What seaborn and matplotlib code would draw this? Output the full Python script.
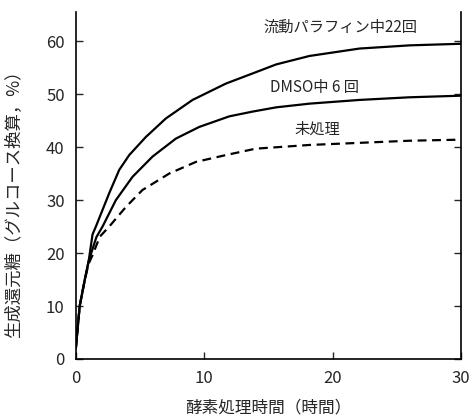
import matplotlib; matplotlib.use('Agg')
import numpy as np
import pandas as pd
import seaborn as sns
import matplotlib.pyplot as plt

# enzyme treatment time (h) vs reducing sugar (% as glucose)
t_paraffin = [0, 0.3, 0.7, 1.0, 1.3, 1.56, 2.6, 3.38, 4.16, 5.45, 7.01, 9.09, 11.7, 13.77, 15.6, 18.2, 22.1, 26.0, 30]
y_paraffin = [2, 10, 15, 18.5, 23.5, 25.0, 31.3, 35.7, 38.5, 41.9, 45.4, 48.9, 52.0, 53.9, 55.6, 57.2, 58.6, 59.2, 59.5]

t_dmso = [0, 0.3, 0.7, 1.0, 1.6, 2.08, 3.12, 4.42, 5.97, 7.79, 9.61, 11.95, 13.77, 15.6, 18.2, 22.1, 26.0, 30]
y_dmso = [2, 10, 15, 18.5, 23.0, 25.0, 30.0, 34.4, 38.2, 41.6, 43.8, 45.8, 46.7, 47.5, 48.2, 48.9, 49.4, 49.7]

t_untreated = [0, 0.3, 0.7, 1.0, 1.3, 1.87, 2.6, 3.9, 5.19, 7.27, 9.35, 11.7, 14.0, 18.2, 22.1, 26.0, 30]
y_untreated = [2, 10, 15, 18, 19.6, 23.1, 25.0, 28.7, 31.9, 35.0, 37.2, 38.5, 39.7, 40.4, 40.8, 41.2, 41.4]

curve_labels = ['流動パラフィン中22回', 'DMSO中 6 回', '未処理']
x_ticks = [0, 10, 20, 30]
y_ticks = [0, 10, 20, 30, 40, 50, 60]

df = pd.concat([
    pd.DataFrame({'t': t_paraffin, 'y': y_paraffin, 'curve': curve_labels[0]}),
    pd.DataFrame({'t': t_dmso, 'y': y_dmso, 'curve': curve_labels[1]}),
    pd.DataFrame({'t': t_untreated, 'y': y_untreated, 'curve': curve_labels[2]}),
])

sns.set_style('ticks')
plt.rcParams['font.family'] = ['Noto Sans CJK JP', 'DejaVu Sans']

fig = plt.figure(figsize=(4.74, 4.19), dpi=100)
ax = fig.add_axes([0.160, 0.1432, 0.8126, 0.8282])

sns.lineplot(data=df, x='t', y='y', hue='curve', style='curve',
             palette=['black'] * 3,
             dashes={curve_labels[0]: '', curve_labels[1]: '', curve_labels[2]: (4, 2.5)},
             linewidth=1.6, legend=False, ax=ax, sort=False)
for ln in ax.get_lines():
    ln.set_solid_joinstyle('round')

ax.set_xlim(0, 30)
ax.set_ylim(0, 65.5)
ax.set_xticks(x_ticks)
ax.set_yticks(y_ticks)
ax.tick_params(direction='in', length=5, width=1, labelsize=12, pad=8,
               left=True, right=True, bottom=True, top=False)
ax.spines['top'].set_visible(False)
for s in ['left', 'right', 'bottom']:
    ax.spines[s].set_linewidth(1.2)
    ax.spines[s].set_color('black')

ax.set_xlabel('酵素処理時間（時間）', fontsize=12, labelpad=9)
ax.set_ylabel('生成還元糖（グルコース換算，%）', fontsize=12.5)
ax.yaxis.set_label_coords(-0.14, 0.46)

ax.text(20.6, 62.7, curve_labels[0], fontsize=11, ha='center', va='center')
ax.text(18.6, 51.3, curve_labels[1], fontsize=11, ha='center', va='center')
ax.text(18.8, 43.4, curve_labels[2], fontsize=11, ha='center', va='center')

fig.savefig('out.png', dpi=100)
